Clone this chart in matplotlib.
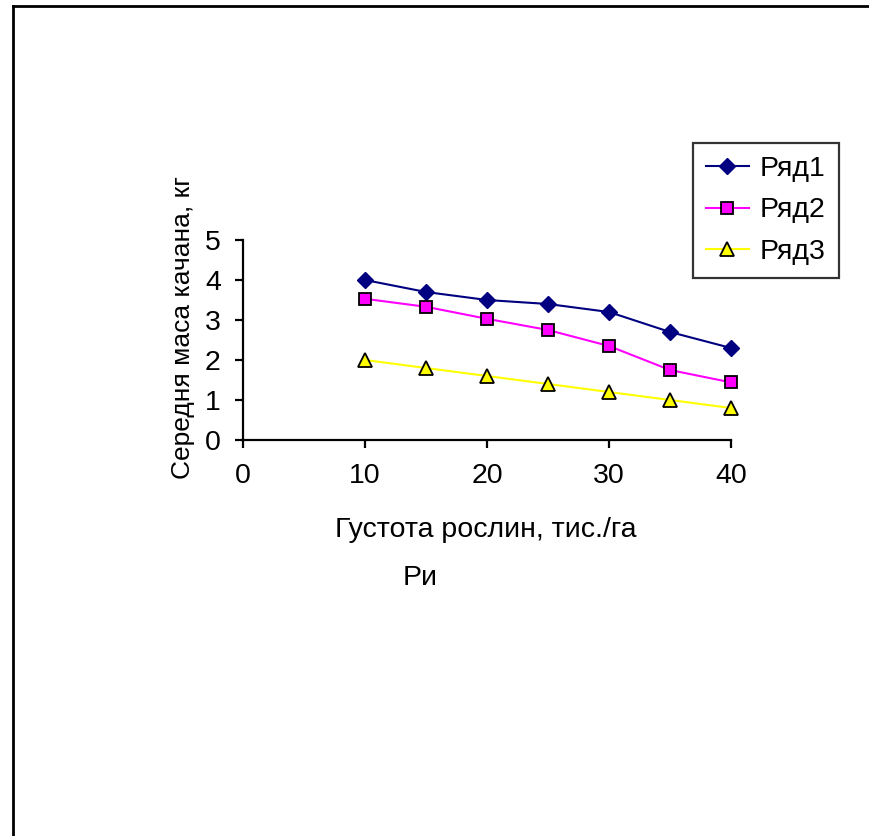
import matplotlib
matplotlib.use("Agg")
import matplotlib.pyplot as plt
from matplotlib.lines import Line2D

plt.rcParams["font.family"] = ["Liberation Sans", "DejaVu Sans"]

# data
density = [10, 15, 20, 25, 30, 35, 40]
row1 = [4.0, 3.7, 3.5, 3.4, 3.2, 2.7, 2.3]
row2 = [3.53, 3.33, 3.03, 2.75, 2.35, 1.75, 1.44]
row3 = [2.0, 1.8, 1.6, 1.4, 1.2, 1.0, 0.8]
series_names = ["Ряд1", "Ряд2", "Ряд3"]
x_ticks = [0, 10, 20, 30, 40]
y_ticks = [0, 1, 2, 3, 4, 5]

W, H = 870, 836
FS = 20.5
fig = plt.figure(figsize=(W / 100, H / 100), dpi=100)
ax = fig.add_axes([243 / W, 1 - 440 / H, (731 - 243) / W, (440 - 240) / H])

styles = [
    dict(color="#000080", marker="D", markersize=8, markerfacecolor="#000080",
         markeredgecolor="#000080"),
    dict(color="#FF00FF", marker="s", markersize=8, markerfacecolor="#FF00FF",
         markeredgecolor="black", markeredgewidth=1.3),
    dict(color="#FFFF00", marker="^", markersize=10, markerfacecolor="#FFFF00",
         markeredgecolor="black", markeredgewidth=1.3),
]
for values, name, st in zip([row1, row2, row3], series_names, styles):
    ax.plot(density, values, linewidth=1.5, label=name, clip_on=False, **st)

ax.set_xlim(0, 40)
ax.set_ylim(0, 5)
ax.set_xticks(x_ticks)
ax.set_yticks(y_ticks)
for s in ["top", "right"]:
    ax.spines[s].set_visible(False)
for s in ["left", "bottom"]:
    ax.spines[s].set_linewidth(1.6)
ax.tick_params(direction="out", length=6, width=1.6, labelsize=FS)
ax.tick_params(axis="x", pad=10.5)
ax.tick_params(axis="y", pad=10)

ax.set_xlabel("Густота рослин, тис./га", fontsize=FS)
ax.xaxis.set_label_coords(0.498, -0.45)
ax.xaxis.label.set_va("center")
ax.set_ylabel("Середня маса качана, кг", fontsize=19)
ax.yaxis.set_label_coords(-0.123, 0.56)
ax.yaxis.label.set_va("center")

fig.text(420 / W, 1 - 578 / H, "Ри", fontsize=FS, ha="center", va="center")

handles, labels = ax.get_legend_handles_labels()
leg = fig.legend(handles, labels, loc="upper left",
                 bbox_to_anchor=(693 / W, 1 - 143 / H), fontsize=FS,
                 frameon=True, fancybox=False, handlelength=1.5,
                 handletextpad=0.4, borderpad=0.45, labelspacing=0.55,
                 borderaxespad=0)
leg.get_frame().set_edgecolor("black")
leg.get_frame().set_linewidth(1.6)

# outer frame (only top and left visible)
fig.add_artist(Line2D([13 / W, 1], [1 - 6 / H, 1 - 6 / H], color="black",
                      linewidth=2.0, transform=fig.transFigure))
fig.add_artist(Line2D([13 / W, 13 / W], [1 - 6 / H, 0], color="black",
                      linewidth=2.0, transform=fig.transFigure))

fig.savefig("out.png", dpi=100)
